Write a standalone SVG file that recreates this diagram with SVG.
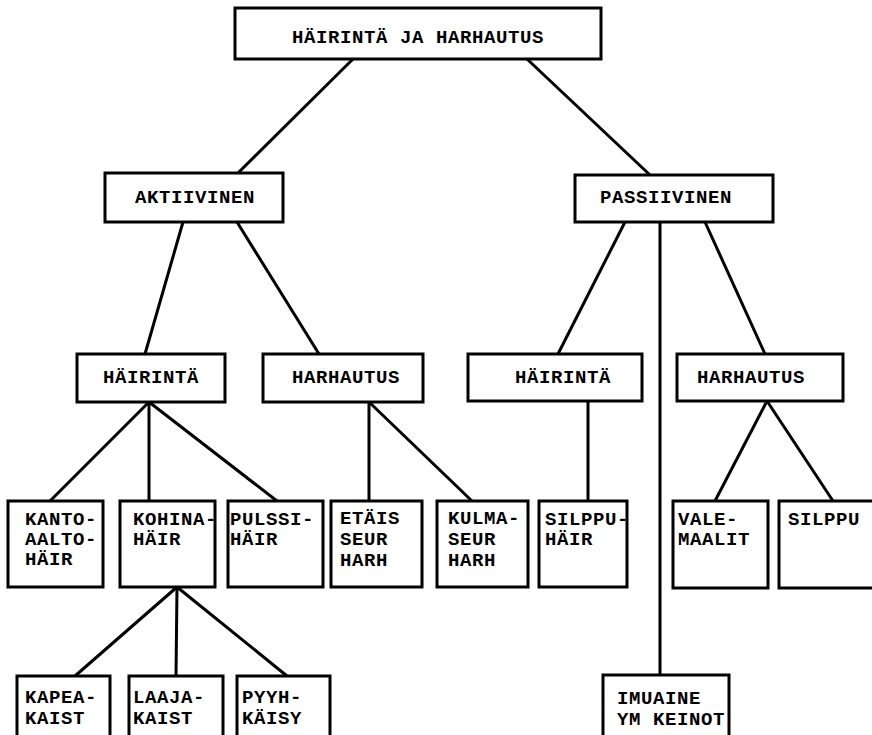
<svg xmlns="http://www.w3.org/2000/svg" width="872" height="735" viewBox="0 0 872 735">
<style>
  .box { fill: #ffffff; stroke: #000000; stroke-width: 3; }
  .edge { fill: none; stroke: #000000; stroke-width: 3; stroke-linecap: round; }
  text { font-family: "Liberation Mono", "Courier New", monospace; font-size: 19px; font-weight: bold; letter-spacing: 0.6px; fill: #000000; }
</style>
<rect width="872" height="735" fill="#ffffff"/>
<g id="connectors">
  <line class="edge" x1="353" y1="59" x2="238" y2="173"/>
  <line class="edge" x1="527" y1="59" x2="650" y2="175"/>
  <line class="edge" x1="183" y1="222" x2="145" y2="354"/>
  <line class="edge" x1="237" y1="222" x2="319" y2="354"/>
  <line class="edge" x1="625" y1="222" x2="558" y2="354"/>
  <line class="edge" x1="660" y1="222" x2="660" y2="675"/>
  <line class="edge" x1="705" y1="222" x2="765" y2="354"/>
  <line class="edge" x1="149" y1="402" x2="50" y2="501"/>
  <line class="edge" x1="149" y1="402" x2="149" y2="501"/>
  <line class="edge" x1="149" y1="402" x2="277" y2="501"/>
  <line class="edge" x1="369" y1="402" x2="369" y2="501"/>
  <line class="edge" x1="369" y1="402" x2="472" y2="501"/>
  <line class="edge" x1="588" y1="401" x2="588" y2="501"/>
  <line class="edge" x1="767" y1="401" x2="715" y2="501"/>
  <line class="edge" x1="767" y1="401" x2="833" y2="501"/>
  <line class="edge" x1="177" y1="587" x2="75" y2="676"/>
  <line class="edge" x1="177" y1="587" x2="176" y2="676"/>
  <line class="edge" x1="177" y1="587" x2="287" y2="676"/>
</g>
<g id="root">
  <rect class="box" x="235" y="8" width="366" height="51"/>
  <text x="292" y="43">HÄIRINTÄ JA HARHAUTUS</text>
</g>
<g id="aktiivinen">
  <rect class="box" x="105" y="173" width="178" height="49"/>
  <text x="135" y="203">AKTIIVINEN</text>
</g>
<g id="passiivinen">
  <rect class="box" x="575" y="175" width="198" height="47"/>
  <text x="600" y="203">PASSIIVINEN</text>
</g>
<g id="a-hairinta">
  <rect class="box" x="77" y="354" width="148" height="48"/>
  <text x="103" y="383">HÄIRINTÄ</text>
</g>
<g id="a-harhautus">
  <rect class="box" x="263" y="354" width="160" height="48"/>
  <text x="292" y="383">HARHAUTUS</text>
</g>
<g id="p-hairinta">
  <rect class="box" x="468" y="354" width="174" height="47"/>
  <text x="515" y="383">HÄIRINTÄ</text>
</g>
<g id="p-harhautus">
  <rect class="box" x="677" y="354" width="166" height="47"/>
  <text x="697" y="383">HARHAUTUS</text>
</g>
<g id="kantoaalto">
  <rect class="box" x="8" y="501" width="95" height="86"/>
  <text x="25" y="525">KANTO-</text>
  <text x="25" y="545">AALTO-</text>
  <text x="25" y="565">HÄIR</text>
</g>
<g id="kohina">
  <rect class="box" x="120" y="501" width="95" height="86"/>
  <text x="133" y="525">KOHINA-</text>
  <text x="133" y="545">HÄIR</text>
</g>
<g id="pulssi">
  <rect class="box" x="228" y="501" width="95" height="86"/>
  <text x="230" y="525">PULSSI-</text>
  <text x="230" y="545">HÄIR</text>
</g>
<g id="etais">
  <rect class="box" x="331" y="501" width="91" height="86"/>
  <text x="340" y="524">ETÄIS</text>
  <text x="340" y="545">SEUR</text>
  <text x="340" y="566">HARH</text>
</g>
<g id="kulma">
  <rect class="box" x="437" y="501" width="91" height="86"/>
  <text x="448" y="524">KULMA-</text>
  <text x="448" y="545">SEUR</text>
  <text x="448" y="566">HARH</text>
</g>
<g id="silppuhair">
  <rect class="box" x="539" y="501" width="88" height="86"/>
  <text x="545" y="525">SILPPU-</text>
  <text x="545" y="545">HÄIR</text>
</g>
<g id="valemaalit">
  <rect class="box" x="673" y="501" width="95" height="87"/>
  <text x="678" y="525">VALE-</text>
  <text x="678" y="545">MAALIT</text>
</g>
<g id="silppu">
  <path class="box" d="M 880 501 L 779 501 L 779 588 L 880 588"/>
  <text x="788" y="525">SILPPU</text>
</g>
<g id="kapeakaist">
  <rect class="box" x="17" y="676" width="93" height="80"/>
  <text x="25" y="703">KAPEA-</text>
  <text x="25" y="724">KAIST</text>
</g>
<g id="laajakaist">
  <rect class="box" x="129" y="676" width="94" height="80"/>
  <text x="133" y="703">LAAJA-</text>
  <text x="133" y="724">KAIST</text>
</g>
<g id="pyyhkaisy">
  <rect class="box" x="237" y="676" width="93" height="80"/>
  <text x="242" y="703">PYYH-</text>
  <text x="242" y="724">KÄISY</text>
</g>
<g id="imuaine">
  <rect class="box" x="603" y="675" width="126" height="80"/>
  <text x="617" y="704">IMUAINE</text>
  <text x="617" y="725">YM KEINOT</text>
</g>
</svg>
